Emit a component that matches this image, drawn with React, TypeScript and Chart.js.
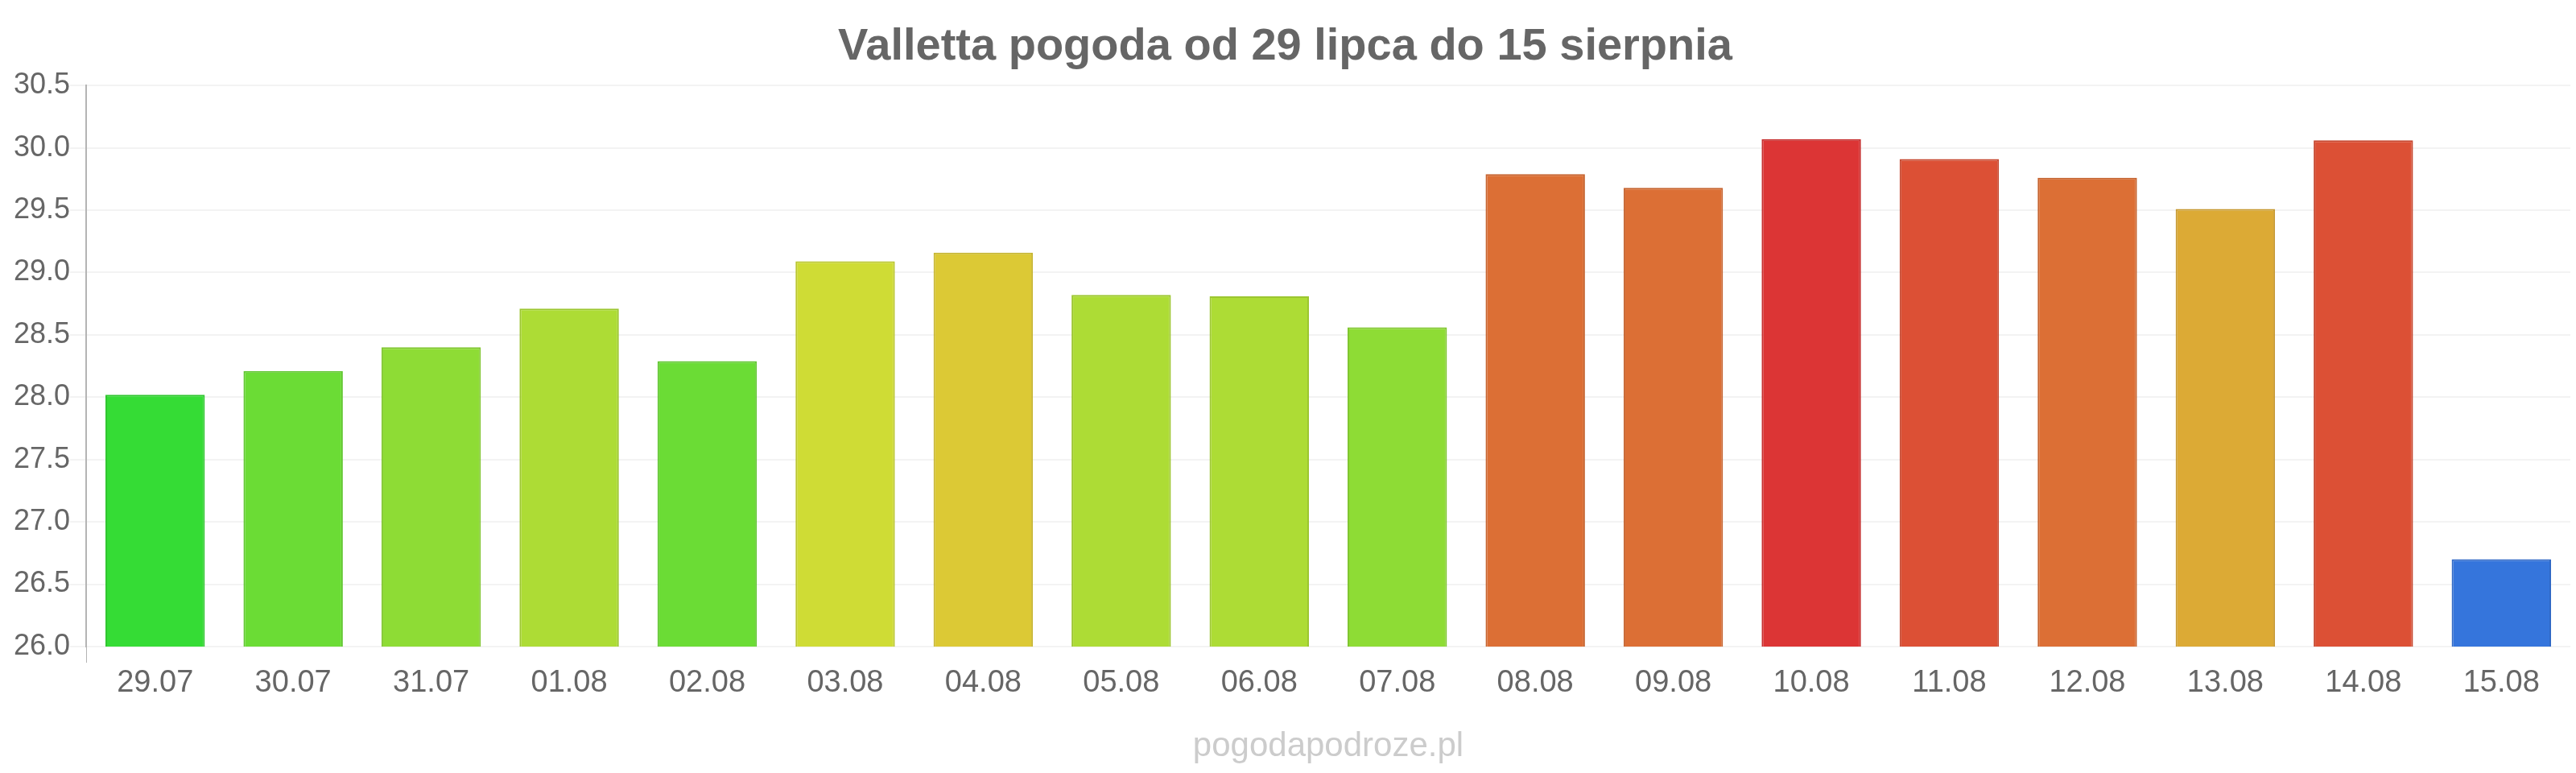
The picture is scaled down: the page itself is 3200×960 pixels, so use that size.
import React, { useEffect, useRef } from "react";
import { Chart, registerables } from "chart.js";

Chart.register(...registerables);

const TITLE = "Valletta pogoda od 29 lipca do 15 sierpnia";
const FOOTER = "pogodapodroze.pl";

const categories = [
  "29.07", "30.07", "31.07", "01.08", "02.08", "03.08", "04.08", "05.08", "06.08",
  "07.08", "08.08", "09.08", "10.08", "11.08", "12.08", "13.08", "14.08", "15.08",
];

const temperatures = [
  28.02, 28.21, 28.4, 28.71, 28.29, 29.09, 29.16, 28.82, 28.81,
  28.56, 29.79, 29.68, 30.07, 29.91, 29.76, 29.51, 30.06, 26.7,
];

const barColors = [
  "#35DC35", "#6BDC35", "#8EDC35", "#ADDC35", "#6BDC35", "#CFDC35", "#DCC935", "#ADDC35", "#ADDC35",
  "#8EDC35", "#DC6F35", "#DC6F35", "#DC3535", "#DC5035", "#DC6F35", "#DCAA35", "#DC5035", "#3575DC",
];

const yMin = 26.0;
const yMax = 30.5;
const yStep = 0.5;

function darken(hex: string, f: number): string {
  const n = parseInt(hex.slice(1), 16);
  const r = Math.round(((n >> 16) & 255) * f);
  const g = Math.round(((n >> 8) & 255) * f);
  const b = Math.round((n & 255) * f);
  return `rgb(${r},${g},${b})`;
}

const FONT = "'Liberation Sans', Arial, Helvetica, sans-serif";

export default function App() {
  const ref = useRef<HTMLCanvasElement | null>(null);

  useEffect(() => {
    if (!ref.current) return;
    const chart = new Chart(ref.current, {
      type: "bar",
      data: {
        labels: categories,
        datasets: [
          {
            data: temperatures,
            backgroundColor: barColors,
            borderColor: barColors.map((c) => darken(c, 0.9)),
            borderWidth: 2,
            barPercentage: 0.9,
            categoryPercentage: 0.8,
          },
        ],
      },
      options: {
        responsive: false,
        animation: false,
        devicePixelRatio: 1,
        layout: { padding: { left: 0, right: 7, top: 0, bottom: 0 } },
        plugins: {
          legend: { display: false },
          tooltip: { enabled: false },
          title: {
            display: true,
            text: TITLE,
            color: "#666666",
            font: { family: FONT, size: 56, weight: "bold" },
            padding: { top: 25, bottom: 14 },
          },
        },
        scales: {
          x: {
            grid: {
              display: true,
              drawOnChartArea: false,
              tickLength: 20,
              color: (ctx: any) => (ctx.index === 0 ? "#b4b4b4" : "rgba(0,0,0,0)"),
            },
            border: { display: false },
            ticks: {
              color: "#666666",
              font: { family: FONT, size: 38 },
              padding: 3,
              maxRotation: 0,
            },
            title: {
              display: true,
              text: FOOTER,
              color: "#cccccc",
              font: { family: FONT, size: 42 },
              padding: { top: 0, bottom: 7 },
            },
            afterFit: (scale: any) => {
              scale.height = 157;
            },
          },
          y: {
            min: yMin,
            max: yMax,
            grid: {
              color: "#f3f3f3",
              lineWidth: 2,
              tickLength: 20,
            },
            border: { display: true, color: "#b4b4b4", width: 2 },
            ticks: {
              stepSize: yStep,
              color: "#666666",
              font: { family: FONT, size: 36 },
              padding: 0,
              callback: (v: any) => Number(v).toFixed(1),
            },
            afterFit: (scale: any) => {
              scale.width = 107;
            },
          },
        },
      },
    } as any);
    return () => chart.destroy();
  }, []);

  return (
    <div style={{ position: "fixed", left: 0, top: 0, width: 3200, height: 960, background: "#ffffff" }}>
      <canvas ref={ref} width={3200} height={960} style={{ width: 3200, height: 960, display: "block" }} />
    </div>
  );
}
